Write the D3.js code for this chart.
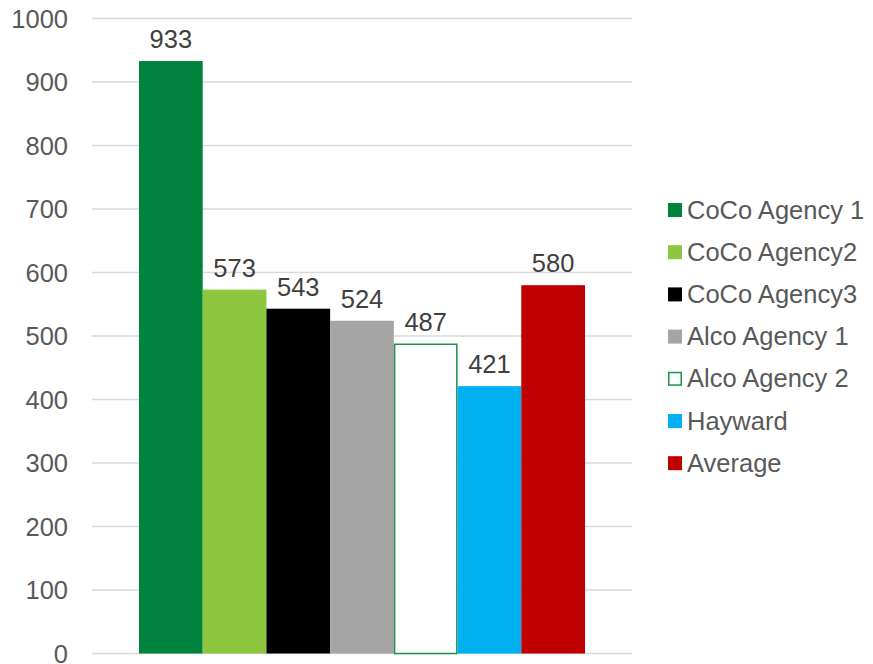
<!DOCTYPE html>
<html>
<head>
<meta charset="utf-8">
<script src="https://cdn.jsdelivr.net/npm/d3@7"></script>
<style>
    body { margin: 0; background: #fff; }
    svg text { font-family: "Liberation Sans", Arial, sans-serif; }
</style>
</head>
<body>
<div id="draw"></div>
<script>
// 数据
var series = ["CoCo Agency 1", "CoCo Agency2", "CoCo Agency3", "Alco Agency 1", "Alco Agency 2", "Hayward", "Average"];
var values = [933, 573, 543, 524, 487, 421, 580];
var fills = ["#00843d", "#8dc63f", "#000000", "#a5a5a5", "#ffffff", "#00b0f0", "#c00000"];
var strokes = [null, null, null, null, "#1e8f4e", null, null];
var yTicks = [0, 100, 200, 300, 400, 500, 600, 700, 800, 900, 1000];

var w = 873, h = 664;
var plot = {left: 92, right: 632, top: 18.5, bottom: 653.5};
var fs = "25.5px";

var svg = d3.select("#draw")
    .append("svg")
    .attr("width", w)
    .attr("height", h);

var y = d3.scaleLinear().domain([0, 1000]).range([plot.bottom, plot.top]);
var x = d3.scaleBand().domain(series)
    .range([plot.left + 47, plot.right - 47])
    .paddingInner(0).paddingOuter(0);

// 网格线
svg.append("g")
    .selectAll("line")
    .data(yTicks)
    .enter()
    .append("line")
    .attr("x1", plot.left)
    .attr("x2", plot.right)
    .attr("y1", function(d) { return y(d); })
    .attr("y2", function(d) { return y(d); })
    .attr("stroke", "#d9d9d9")
    .attr("stroke-width", 1.5);

// y轴标签
var yAxis = d3.axisLeft(y).tickValues(yTicks).tickFormat(d3.format("d")).tickSize(0).tickPadding(0);
var ga = svg.append("g")
    .attr("transform", "translate(68,0)")
    .call(yAxis);
ga.select(".domain").remove();
ga.selectAll("text")
    .attr("font-size", fs)
    .attr("fill", "#595959")
    .attr("dy", "0.34em")
    .style("font-family", "Liberation Sans, Arial, sans-serif");

// 柱子
svg.append("g")
    .selectAll("rect")
    .data(values)
    .enter()
    .append("rect")
    .attr("x", function(d, i) { return x(series[i]) + (strokes[i] ? 0.75 : 0); })
    .attr("y", function(d) { return y(d); })
    .attr("width", function(d, i) { return x.bandwidth() - (strokes[i] ? 1.5 : 0); })
    .attr("height", function(d) { return plot.bottom - y(d); })
    .attr("fill", function(d, i) { return fills[i]; })
    .attr("stroke", function(d, i) { return strokes[i] || "none"; })
    .attr("stroke-width", 1.5);

// 数值标签
svg.append("g")
    .selectAll("text")
    .data(values)
    .enter()
    .append("text")
    .text(function(d) { return d; })
    .attr("x", function(d, i) { return x(series[i]) + x.bandwidth() / 2; })
    .attr("y", function(d) { return y(d) - 13; })
    .attr("text-anchor", "middle")
    .attr("font-size", fs)
    .attr("fill", "#404040");

// 图例
var lg = svg.append("g")
    .selectAll("g")
    .data(series)
    .enter()
    .append("g")
    .attr("transform", function(d, i) { return "translate(668," + (210 + i * 42.2) + ")"; });
lg.append("rect")
    .attr("x", function(d, i) { return strokes[i] ? 0.75 : 0; })
    .attr("y", function(d, i) { return -7 + (strokes[i] ? 0.75 : 0); })
    .attr("width", function(d, i) { return strokes[i] ? 12.5 : 14; })
    .attr("height", function(d, i) { return strokes[i] ? 12.5 : 14; })
    .attr("fill", function(d, i) { return fills[i]; })
    .attr("stroke", function(d, i) { return strokes[i] || "none"; })
    .attr("stroke-width", 1.5);
lg.append("text")
    .text(function(d) { return d; })
    .attr("x", 19)
    .attr("dy", "0.34em")
    .attr("font-size", fs)
    .attr("fill", "#595959");
</script>
</body>
</html>
